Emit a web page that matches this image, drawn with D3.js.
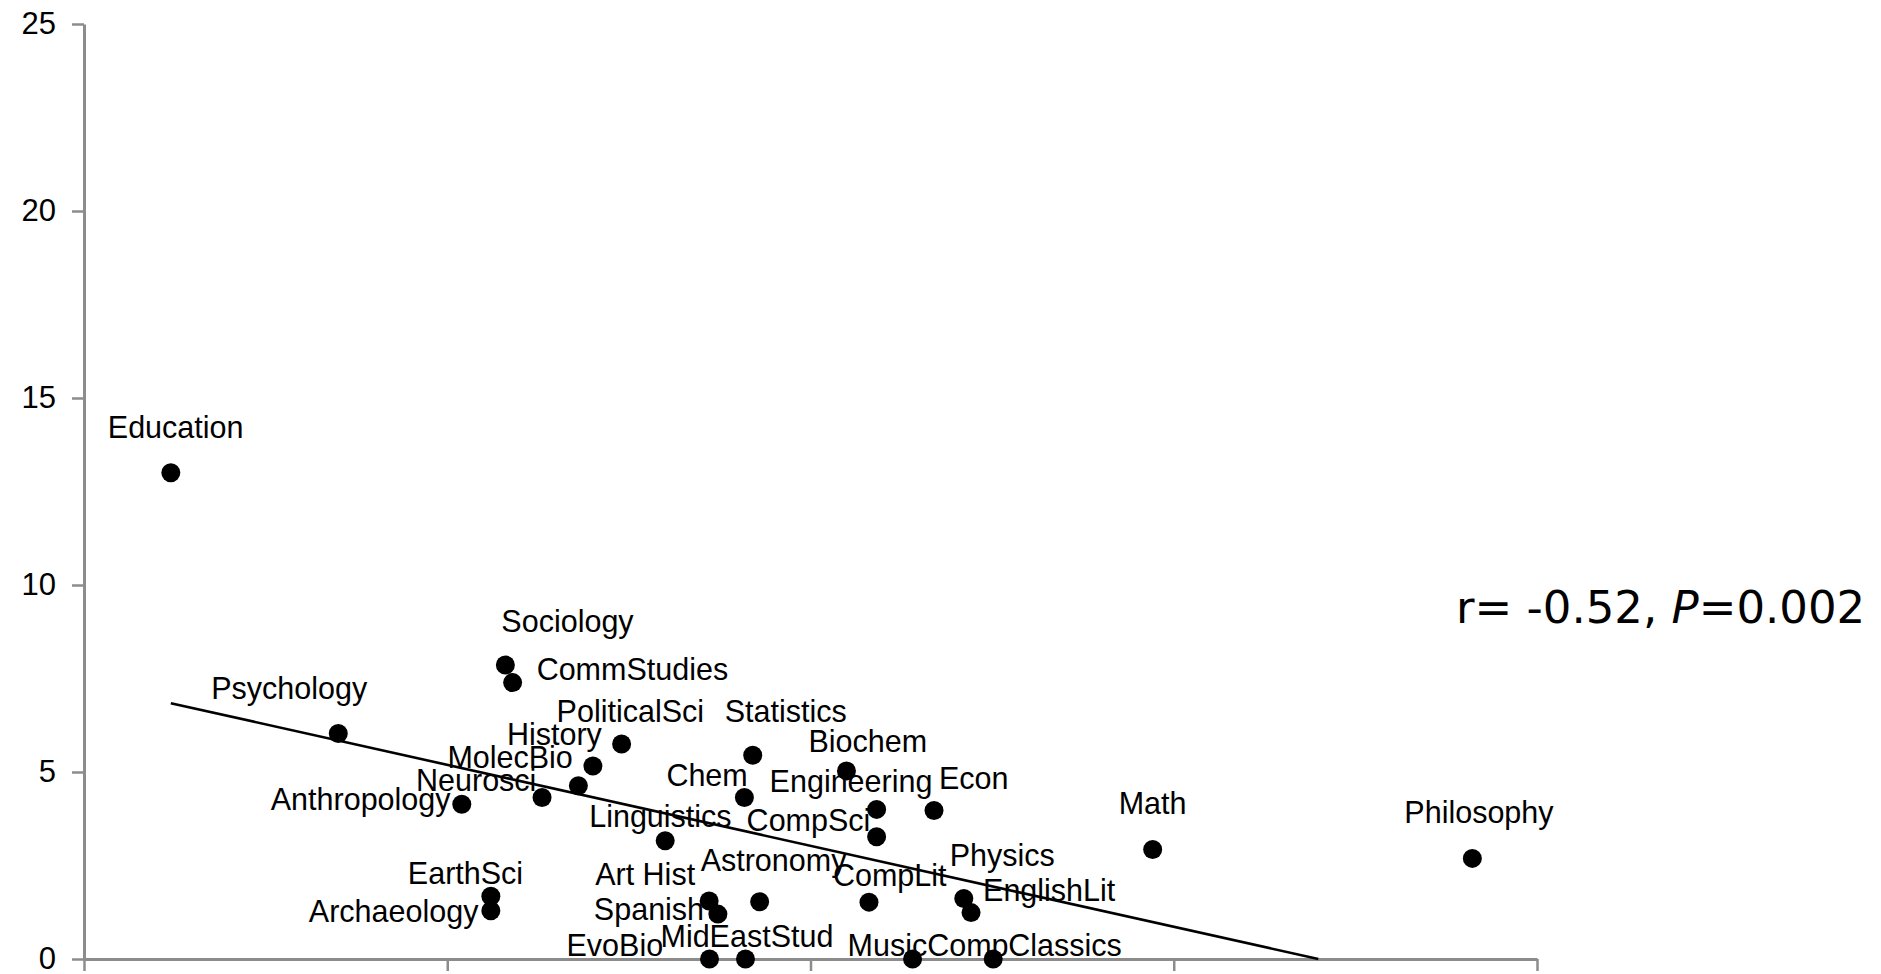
<!DOCTYPE html>
<html>
<head>
<meta charset="utf-8">
<script src="https://cdn.jsdelivr.net/npm/d3@7"></script>
<style>
  html, body { margin: 0; padding: 0; background: #fff; }
  svg { display: block; }
</style>
</head>
<body>
<svg id="chart" width="1881" height="974"></svg>
<script>
// ---- data ----------------------------------------------------------------
const fields = [
  "Education", "Psychology", "Anthropology", "Sociology", "CommStudies",
  "EarthSci", "Archaeology", "Neurosci", "MolecBio", "History",
  "PoliticalSci", "Linguistics", "Art Hist", "Spanish", "EvoBio",
  "MidEastStud", "Astronomy", "Chem", "Statistics", "Biochem",
  "Engineering", "CompSci", "CompLit", "Econ", "MusicComp",
  "Physics", "EnglishLit", "Classics", "Math", "Philosophy"
];

const xScore = [
  0.239, 0.700, 1.040, 1.160, 1.180,
  1.120, 1.120, 1.261, 1.361, 1.401,
  1.480, 1.600, 1.721, 1.745, 1.722,
  1.821, 1.860, 1.818, 1.841, 2.099,
  2.182, 2.182, 2.161, 2.340, 2.281,
  2.422, 2.442, 2.503, 2.942, 3.822
];

const yScore = [
  13.00, 6.03, 4.14, 7.86, 7.39,
  1.68, 1.29, 4.32, 4.63, 5.16,
  5.75, 3.16, 1.55, 1.20, 0.00,
  0.00, 1.53, 4.32, 5.45, 5.03,
  4.00, 3.27, 1.52, 3.97, 0.00,
  1.62, 1.24, 0.00, 2.93, 2.69
];

const xTicks = [0, 1, 2, 3, 4];
const yTicks = [0, 5, 10, 15, 20, 25];

const statParts = [
  { text: "r= -0.52, ", italic: false },
  { text: "P", italic: true },
  { text: "=0.002", italic: false }
];

// hand-placed label positions (px, relative to each point; left edge / baseline)
const labelOffsets = [
  [-63, -35], [-127, -34], [-191, 6], [-4, -33], [24, -3],
  [-83, -12], [-182, 11], [-126, -6], [-131, -18], [-86, -21],
  [-65, -22], [-76, -14], [-114, -16], [-124, 6], [-143, -3],
  [-85, -12], [-59, -31], [-78, -11], [-28, -33], [-38, -19],
  [-107, -17], [-130, -6], [-36, -16], [5, -22], [-65, -3],
  [-14, -32], [12, -12], [15, -3], [-34, -35], [-68, -35]
];

// ---- layout --------------------------------------------------------------
const svg = d3.select("#chart");
const axisColor = "#8c8c8c";
const labelFont = "'Liberation Sans', Arial, Helvetica, sans-serif";

svg.append("rect").attr("width", 1881).attr("height", 974).attr("fill", "#fff");

const x = d3.scaleLinear().domain([0, 4]).range([84, 1537]);
const y = d3.scaleLinear().domain([0, 25]).range([959, 24]);

const points = fields.map((name, i) => ({
  name, x: xScore[i], y: yScore[i], off: labelOffsets[i]
}));

// ---- axes ----------------------------------------------------------------
const yAxis = svg.append("g")
  .attr("transform", `translate(${x(0)},0)`)
  .call(d3.axisLeft(y).tickValues(yTicks).tickSize(12).tickSizeOuter(0).tickPadding(16));

const xAxis = svg.append("g")
  .attr("transform", `translate(0,${y(0)})`)
  .call(d3.axisBottom(x).tickValues(xTicks).tickFormat(() => "").tickSize(12).tickSizeOuter(0));

[yAxis, xAxis].forEach(g => {
  g.select(".domain").attr("stroke", axisColor).attr("stroke-width", 3);
  g.selectAll(".tick line").attr("stroke", axisColor).attr("stroke-width", 2.5);
  g.selectAll(".tick text")
    .attr("fill", "#000")
    .style("font-family", labelFont)
    .style("font-size", "31px");
});

// ---- point labels --------------------------------------------------------
svg.append("g")
  .selectAll("text")
  .data(points)
  .join("text")
  .attr("x", d => x(d.x) + d.off[0])
  .attr("y", d => y(d.y) + d.off[1])
  .attr("fill", "#000")
  .style("font-family", labelFont)
  .style("font-size", "30.5px")
  .text(d => d.name);

// ---- least-squares trend line, clipped at the bottom of the plot ---------
const mx = d3.mean(points, d => d.x);
const my = d3.mean(points, d => d.y);
const sxy = d3.sum(points, d => (d.x - mx) * (d.y - my));
const sxx = d3.sum(points, d => (d.x - mx) ** 2);
const slope = sxy / sxx;
const intercept = my - slope * mx;

const xMin = d3.min(points, d => d.x);
const xMax = d3.max(points, d => d.x);
const xZero = slope < 0 ? -intercept / slope : xMax;
const xEnd = Math.min(xMax, xZero);

svg.append("line")
  .attr("x1", x(xMin)).attr("y1", y(intercept + slope * xMin))
  .attr("x2", x(xEnd)).attr("y2", y(intercept + slope * xEnd))
  .attr("stroke", "#000")
  .attr("stroke-width", 2.6);

// ---- points --------------------------------------------------------------
svg.append("g")
  .selectAll("circle")
  .data(points)
  .join("circle")
  .attr("cx", d => x(d.x))
  .attr("cy", d => y(d.y))
  .attr("r", 9.5)
  .attr("fill", "#000");

// ---- correlation note ----------------------------------------------------
const stat = svg.append("text")
  .attr("x", 1456)
  .attr("y", 623)
  .attr("fill", "#000")
  .style("font-family", "'DejaVu Sans', Verdana, sans-serif")
  .style("font-size", "45px")
  .attr("xml:space", "preserve")
  .style("white-space", "pre");

stat.selectAll("tspan")
  .data(statParts)
  .join("tspan")
  .style("font-style", d => d.italic ? "italic" : "normal")
  .text(d => d.text);
</script>
</body>
</html>
